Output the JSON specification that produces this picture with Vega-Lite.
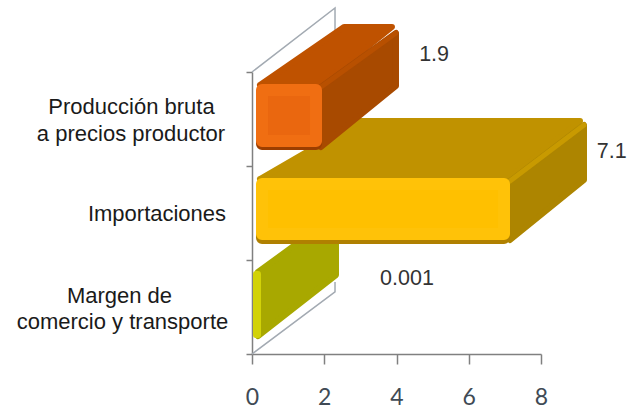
{"$schema":"https://vega.github.io/schema/vega-lite/v6.json","width":377,"height":354,"autosize":{"type":"none"},"padding":{"left":252,"top":0,"right":0,"bottom":60},"background":"white","config":{"view":{"stroke":null}},
"datasets":{"faces":[
{"face":"oliveSide","seq":1,"x":0.166,"y":0.872},{"face":"oliveSide","seq":2,"x":2.325,"y":1.479},{"face":"oliveSide","seq":3,"x":2.325,"y":0.84},{"face":"oliveSide","seq":4,"x":0.166,"y":0.191},{"face":"oliveSide","seq":5,"x":0.166,"y":0.872},
{"face":"oliveFront","seq":1,"x":0.111,"y":0.851},{"face":"oliveFront","seq":2,"x":0.166,"y":0.851},{"face":"oliveFront","seq":3,"x":0.166,"y":0.202},{"face":"oliveFront","seq":4,"x":0.111,"y":0.202},{"face":"oliveFront","seq":5,"x":0.111,"y":0.851},
{"face":"yellowTop","seq":1,"x":0.221,"y":1.862},{"face":"yellowTop","seq":2,"x":2.99,"y":2.479},{"face":"yellowTop","seq":3,"x":9.08,"y":2.479},{"face":"yellowTop","seq":4,"x":7.087,"y":1.862},{"face":"yellowTop","seq":5,"x":0.221,"y":1.862},
{"face":"yellowSide","seq":1,"x":7.142,"y":1.84},{"face":"yellowSide","seq":2,"x":9.19,"y":2.436},{"face":"yellowSide","seq":3,"x":9.19,"y":1.851},{"face":"yellowSide","seq":4,"x":7.142,"y":1.213},{"face":"yellowSide","seq":5,"x":7.142,"y":1.84},
{"face":"yellowBevel","seq":1,"x":7.142,"y":1.84},{"face":"yellowBevel","seq":2,"x":9.19,"y":2.436},{"face":"yellowBevel","seq":3,"x":7.142,"y":1.84},
{"face":"yellowEdge","seq":1,"x":0.277,"y":1.766},{"face":"yellowEdge","seq":2,"x":6.976,"y":1.766},{"face":"yellowEdge","seq":3,"x":6.976,"y":1.234},{"face":"yellowEdge","seq":4,"x":0.277,"y":1.234},{"face":"yellowEdge","seq":5,"x":0.277,"y":1.766},
{"face":"yellowFront","seq":1,"x":0.277,"y":1.809},{"face":"yellowFront","seq":2,"x":6.976,"y":1.809},{"face":"yellowFront","seq":3,"x":6.976,"y":1.277},{"face":"yellowFront","seq":4,"x":0.277,"y":1.277},{"face":"yellowFront","seq":5,"x":0.277,"y":1.809},
{"face":"orangeTop","seq":1,"x":0.221,"y":2.862},{"face":"orangeTop","seq":2,"x":2.547,"y":3.479},{"face":"orangeTop","seq":3,"x":3.875,"y":3.479},{"face":"orangeTop","seq":4,"x":1.882,"y":2.862},{"face":"orangeTop","seq":5,"x":0.221,"y":2.862},
{"face":"orangeSide","seq":1,"x":1.91,"y":2.84},{"face":"orangeSide","seq":2,"x":3.986,"y":3.415},{"face":"orangeSide","seq":3,"x":3.986,"y":2.851},{"face":"orangeSide","seq":4,"x":1.91,"y":2.202},{"face":"orangeSide","seq":5,"x":1.91,"y":2.84},
{"face":"orangeBevel","seq":1,"x":1.91,"y":2.84},{"face":"orangeBevel","seq":2,"x":3.986,"y":3.415},{"face":"orangeBevel","seq":3,"x":1.91,"y":2.84},
{"face":"orangeEdge","seq":1,"x":0.277,"y":2.766},{"face":"orangeEdge","seq":2,"x":1.772,"y":2.766},{"face":"orangeEdge","seq":3,"x":1.772,"y":2.234},{"face":"orangeEdge","seq":4,"x":0.277,"y":2.234},{"face":"orangeEdge","seq":5,"x":0.277,"y":2.766},
{"face":"orangeFront","seq":1,"x":0.277,"y":2.809},{"face":"orangeFront","seq":2,"x":1.772,"y":2.809},{"face":"orangeFront","seq":3,"x":1.772,"y":2.266},{"face":"orangeFront","seq":4,"x":0.277,"y":2.266},{"face":"orangeFront","seq":5,"x":0.277,"y":2.809}
],
"walls":[
{"line":"back","seq":1,"x":0,"y":3},{"line":"back","seq":2,"x":2.298,"y":3.681},{"line":"back","seq":3,"x":2.298,"y":3.447},
{"line":"floor","seq":1,"x":0,"y":0},{"line":"floor","seq":2,"x":2.298,"y":0.66},{"line":"floor","seq":3,"x":2.298,"y":0.766}
],
"cats":[
{"label":"Producción bruta","x":-3.336,"y":2.628},
{"label":"a precios productor","x":-3.349,"y":2.34},
{"label":"Importaciones","x":-2.63,"y":1.489},
{"label":"Margen de","x":-3.668,"y":0.617},
{"label":"comercio y transporte","x":-3.585,"y":0.34}
],
"vals":[
{"label":"1.9","x":5.04,"y":3.18},
{"label":"7.1","x":9.96,"y":2.15},
{"label":"0.001","x":4.29,"y":0.8}
]},
"layer":[
{"data":{"name":"walls"},"mark":{"type":"line","stroke":"#a3aab2","strokeWidth":1.5},"encoding":{
"x":{"field":"x","type":"quantitative","scale":{"domain":[0,8],"range":[0,289],"nice":false,"zero":false},"axis":{"values":[0,2,4,6,8],"format":"d","title":null,"grid":false,"labelFlush":false,"domainColor":"#808080","domainWidth":1.5,"tickColor":"#808080","tickWidth":1.5,"tickSize":10,"labelFont":"Lato","labelFontSize":23,"labelColor":"#404a55","labelPadding":22}},
"y":{"field":"y","type":"quantitative","scale":{"domain":[0,3],"range":[354,72],"nice":false,"zero":false},"axis":{"values":[0,1,2,3],"title":null,"grid":false,"labels":false,"domainColor":"#808080","domainWidth":1.5,"tickColor":"#808080","tickWidth":1.5,"tickSize":6}},
"detail":{"field":"line"},"order":{"field":"seq"}}},
{"data":{"name":"faces"},"mark":{"type":"line","strokeJoin":"round","strokeCap":"round"},"encoding":{
"x":{"field":"x","type":"quantitative"},"y":{"field":"y","type":"quantitative"},
"fill":{"field":"face","type":"nominal","legend":null,"scale":{"domain":["oliveSide","oliveFront","yellowTop","yellowSide","yellowBevel","yellowEdge","yellowFront","orangeTop","orangeSide","orangeBevel","orangeEdge","orangeFront"],"range":["#a8a800","#d2d208","#c09200","#ad8500","#c89a00","#b08000","#ffc000","#bf5200","#a84a00","#b85000","#9c3e00","#ea670f"]}},
"stroke":{"field":"face","type":"nominal","legend":null,"scale":{"domain":["oliveSide","oliveFront","yellowTop","yellowSide","yellowBevel","yellowEdge","yellowFront","orangeTop","orangeSide","orangeBevel","orangeEdge","orangeFront"],"range":["#a8a800","#d2d208","#c09200","#ad8500","#c89a00","#b08000","#ffc208","#bf5200","#a84a00","#b85000","#9c3e00","#f06e12"]}},
"strokeWidth":{"field":"face","type":"nominal","legend":null,"scale":{"type":"ordinal","domain":["oliveSide","oliveFront","yellowTop","yellowSide","yellowBevel","yellowEdge","yellowFront","orangeTop","orangeSide","orangeBevel","orangeEdge","orangeFront"],"range":[6,6,6,6,5,12,12,6,6,5,12,12]}},
"order":{"field":"seq"}}},
{"data":{"name":"cats"},"mark":{"type":"text","font":"Liberation Sans","fontSize":22,"color":"#1a1a1a","align":"center","baseline":"middle"},"encoding":{"x":{"field":"x","type":"quantitative"},"y":{"field":"y","type":"quantitative"},"text":{"field":"label"}}},
{"data":{"name":"vals"},"mark":{"type":"text","font":"Liberation Sans","fontSize":21.5,"color":"#333333","align":"center","baseline":"middle"},"encoding":{"x":{"field":"x","type":"quantitative"},"y":{"field":"y","type":"quantitative"},"text":{"field":"label"}}}
]}
